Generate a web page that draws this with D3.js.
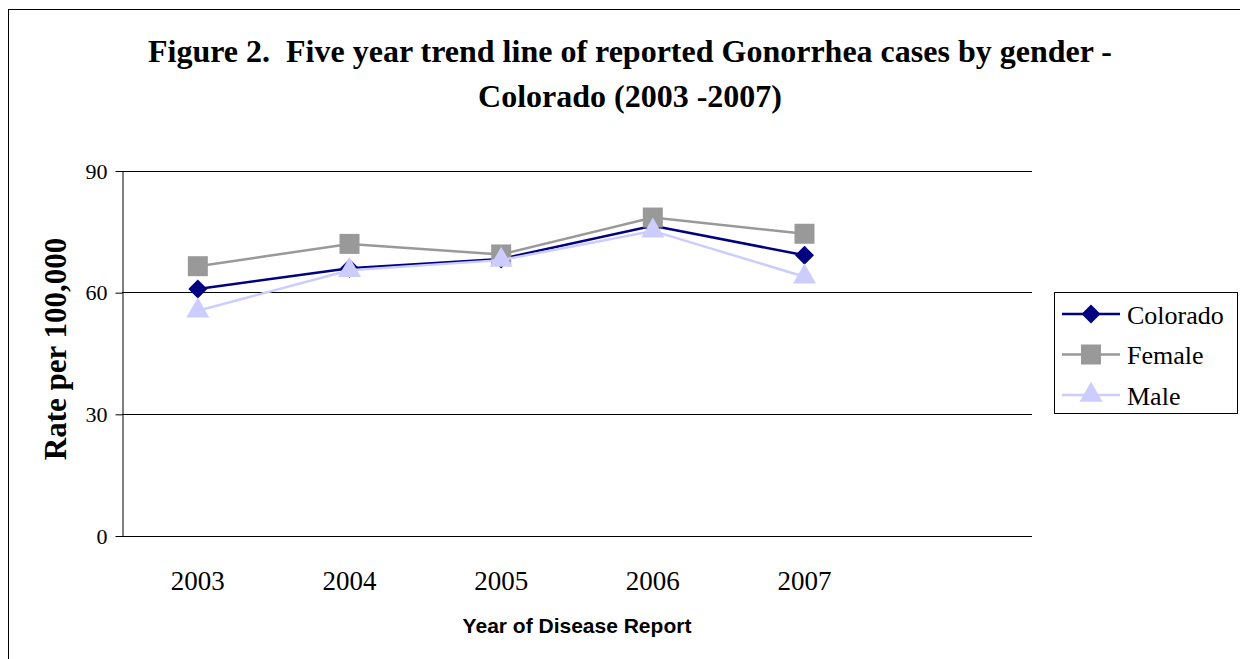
<!DOCTYPE html>
<html>
<head>
<meta charset="utf-8">
<script src="https://cdn.jsdelivr.net/npm/d3@7"></script>
<style>
  body { margin: 0; background: #fff; }
  svg { display: block; }
  text { white-space: pre; }
</style>
</head>
<body>
<svg class="chart" width="1240" height="659"></svg>
<script>
// data
var years = ['2003', '2004', '2005', '2006', '2007', ''];
var colorado = [60.8, 65.9, 68.2, 76.4, 69.1];
var female = [66.4, 71.9, 69.3, 78.4, 74.4];
var male = [55.4, 65.4, 67.9, 75.1, 63.8];
var yTicks = [0, 30, 60, 90];
var seriesNames = ['Colorado', 'Female', 'Male'];

var width = 1240, height = 659;
var margin = ({ top: 170.5, right: 208, bottom: 123.5, left: 122 });
var serif = '"Liberation Serif", "Times New Roman", serif';

var svg = d3.select('.chart');

// outer frame, runs off the right and bottom edges
svg.append('rect')
  .attr('x', 8.5).attr('y', 9.5)
  .attr('width', 1300).attr('height', 700)
  .attr('fill', 'none').attr('stroke', '#000').attr('stroke-width', 1);

var xScale = d3.scaleBand()
  .domain(years)
  .range([margin.left, width - margin.right]);

var yScale = d3.scaleLinear()
  .domain([0, 90])
  .range([height - margin.bottom, margin.top]);

function cx(i) { return xScale(years[i]) + xScale.bandwidth() / 2; }

// gridlines
svg.append('g')
  .selectAll('line')
  .data(yTicks)
  .join('line')
  .attr('x1', margin.left).attr('x2', width - margin.right)
  .attr('y1', d => Math.round(yScale(d)) + 0.5)
  .attr('y2', d => Math.round(yScale(d)) + 0.5)
  .attr('stroke', '#000').attr('stroke-width', 1);

// y axis
var yAxis = d3.axisLeft(yScale).tickValues(yTicks).tickSize(7).tickSizeOuter(0).tickPadding(8);
var yg = svg.append('g')
  .attr('transform', `translate(${margin.left + 0.5},0.5)`)
  .call(yAxis);
yg.select('.domain').attr('stroke', '#000');
yg.selectAll('.tick line').attr('stroke', '#000');
yg.selectAll('.tick text')
  .attr('font-family', serif)
  .attr('font-size', 22)
  .attr('fill', '#000');

// x labels (no tick marks)
svg.append('g')
  .selectAll('text')
  .data(years.filter(d => d !== ''))
  .join('text')
  .attr('x', (d, i) => cx(i))
  .attr('y', 590)
  .attr('text-anchor', 'middle')
  .attr('font-family', serif)
  .attr('font-size', 27)
  .text(d => d);

// titles
var title = svg.append('g')
  .attr('font-family', serif)
  .attr('font-weight', 'bold')
  .attr('font-size', 32)
  .attr('text-anchor', 'middle');
title.append('text').attr('x', 630).attr('y', 62)
  .text('Figure 2.  Five year trend line of reported Gonorrhea cases by gender -');
title.append('text').attr('x', 630).attr('y', 107)
  .text('Colorado (2003 -2007)');

svg.append('text')
  .attr('transform', 'translate(66,349) rotate(-90)')
  .attr('text-anchor', 'middle')
  .attr('font-family', serif)
  .attr('font-weight', 'bold')
  .attr('font-size', 31)
  .text('Rate per 100,000');

svg.append('text')
  .attr('x', 577).attr('y', 633)
  .attr('text-anchor', 'middle')
  .attr('font-family', '"Liberation Sans", Arial, sans-serif')
  .attr('font-weight', 'bold')
  .attr('font-size', 21)
  .text('Year of Disease Report');

// series
var series = [
  { name: 'Colorado', values: colorado, color: '#000080', shape: d3.symbolSquare, size: 180, rot: 45 },
  { name: 'Female', values: female, color: '#999999', shape: d3.symbolSquare, size: 400, rot: 0 },
  { name: 'Male', values: male, color: '#ccccff', shape: d3.symbolTriangle, size: 230, rot: 0 }
];

var line = d3.line()
  .x((d, i) => cx(i))
  .y(d => yScale(d));

series.forEach(function (s) {
  var g = svg.append('g').attr('class', 'series');
  g.append('path')
    .attr('d', line(s.values))
    .attr('fill', 'none')
    .attr('stroke', s.color)
    .attr('stroke-width', 2.5);
  g.selectAll('path.mark')
    .data(s.values)
    .join('path')
    .attr('class', 'mark')
    .attr('d', d3.symbol().type(s.shape).size(s.size))
    .attr('transform', (d, i) => `translate(${cx(i)},${yScale(d)}) rotate(${s.rot})`)
    .attr('fill', s.color);
});

// legend
var legend = svg.append('g');
legend.append('rect')
  .attr('x', 1054.5).attr('y', 292.5)
  .attr('width', 183).attr('height', 121)
  .attr('fill', '#fff').attr('stroke', '#000').attr('stroke-width', 1);

legend.selectAll('g')
  .data(series)
  .join('g')
  .attr('transform', (d, i) => `translate(0,${314 + 40.5 * i})`)
  .call(g => g.append('line')
    .attr('x1', 1062).attr('x2', 1120)
    .attr('stroke', d => d.color).attr('stroke-width', 2.5))
  .call(g => g.append('path')
    .attr('d', d => d3.symbol().type(d.shape).size(d.size)())
    .attr('transform', d => `translate(1091,0) rotate(${d.rot})`)
    .attr('fill', d => d.color))
  .call(g => g.append('text')
    .attr('x', 1127).attr('y', 9.5)
    .attr('font-family', serif)
    .attr('font-size', 26)
    .text(d => d.name));
</script>
</body>
</html>
